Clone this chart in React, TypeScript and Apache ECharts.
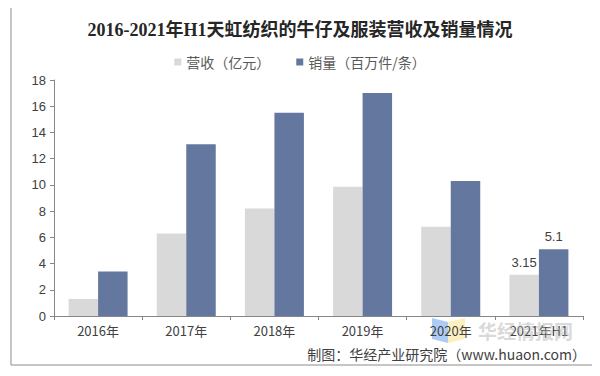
import React, { useEffect, useRef } from "react";
import * as echarts from "echarts";

const categories = ["2016年", "2017年", "2018年", "2019年", "2020年", "2021年H1"];
const revenue = [1.3, 6.3, 8.2, 9.85, 6.8, 3.15];
const sales = [3.4, 13.1, 15.5, 17, 10.3, 5.1];
const labeledIndex = 5;
const titleText = "2016-2021年H1天虹纺织的牛仔及服装营收及销量情况";
const seriesNames = ["营收（亿元）", "销量（百万件/条）"];
const sourceText = "制图：华经产业研究院（www.huaon.com）";
const watermark = "华经情报网";

export default function App() {
  const ref = useRef<HTMLDivElement>(null);
  useEffect(() => {
    if (!ref.current) return;
    const chart = echarts.init(ref.current, undefined, { renderer: "svg" });
    const mkData = (arr: number[]) =>
      arr.map((v, i) => ({
        value: v,
        label: { show: i === labeledIndex },
      }));
    chart.setOption({
      animation: false,
      backgroundColor: "#ffffff",
      title: {
        text: titleText,
        left: "center",
        top: 16,
        textStyle: {
          fontFamily: "Liberation Serif, 'Noto Sans CJK SC', serif",
          fontWeight: "bold",
          fontSize: 18,
          color: "#262626",
        },
      },
      legend: {
        top: 50,
        left: "center",
        itemWidth: 7,
        itemHeight: 7,
        itemGap: 26,
        icon: "rect",
        textStyle: { fontSize: 14, color: "#595959", fontFamily: "'Noto Sans CJK SC', sans-serif" },
        data: seriesNames,
      },
      grid: { left: 54, right: 17, top: 80, bottom: 60 },
      xAxis: {
        type: "category",
        data: categories,
        axisLine: { lineStyle: { color: "#868686" } },
        axisTick: { show: true, length: 4, lineStyle: { color: "#868686" } },
        axisLabel: { fontSize: 13, color: "#404040", margin: 8, fontFamily: "'Noto Sans CJK SC', sans-serif" },
      },
      yAxis: {
        type: "value",
        min: 0,
        max: 18,
        interval: 2,
        splitLine: { show: false },
        axisLine: { show: true, lineStyle: { color: "#868686" } },
        axisTick: { show: true, length: 4, lineStyle: { color: "#868686" } },
        axisLabel: { fontSize: 13, color: "#404040", margin: 8, fontFamily: "Liberation Sans, Arial, sans-serif" },
      },
      series: [
        {
          name: seriesNames[0],
          type: "bar",
          data: mkData(revenue),
          barWidth: 29.5,
          barGap: "0%",
          itemStyle: { color: "#d9d9d9" },
          label: { position: "top", fontSize: 13, color: "#404040", distance: 6, fontFamily: "Liberation Sans, Arial, sans-serif" },
        },
        {
          name: seriesNames[1],
          type: "bar",
          data: mkData(sales),
          barWidth: 29.5,
          barGap: "0%",
          itemStyle: { color: "#64789f" },
          label: { position: "top", fontSize: 13, color: "#404040", distance: 6, fontFamily: "Liberation Sans, Arial, sans-serif" },
        },
      ],
      graphic: [
        {
          type: "rect",
          shape: { x: 11, y: 6, width: 583, height: 359 },
          style: { fill: "none", stroke: "#8c8c8c", lineWidth: 1 },
          silent: true,
          z: 0,
        },
        {
          type: "polygon",
          shape: { points: [[432, 318], [448, 322], [448, 343], [432, 339]] },
          style: { fill: "rgba(120,170,235,0.6)" },
          z: -1,
        },
        {
          type: "polygon",
          shape: { points: [[448, 322], [465, 318], [465, 339], [448, 343]] },
          style: { fill: "rgba(250,230,150,0.6)" },
          z: -1,
        },
        {
          type: "text",
          x: 478,
          y: 320,
          style: {
            text: watermark,
            fontSize: 19,
            lineHeight: 20,
            fontWeight: "bold",
            fill: "rgba(180,180,180,0.5)",
            fontFamily: "'Noto Sans CJK SC', sans-serif",
          },
          z: 10,
        },
        {
          type: "text",
          right: 14,
          top: 346,
          style: {
            text: sourceText,
            fontSize: 14,
            lineHeight: 15,
            fill: "#404040",
            fontFamily: "'Noto Sans CJK SC', sans-serif",
          },
        },
      ],
    });
    return () => chart.dispose();
  }, []);
  return <div ref={ref} style={{ width: 600, height: 376, margin: -8 }} />;
}
